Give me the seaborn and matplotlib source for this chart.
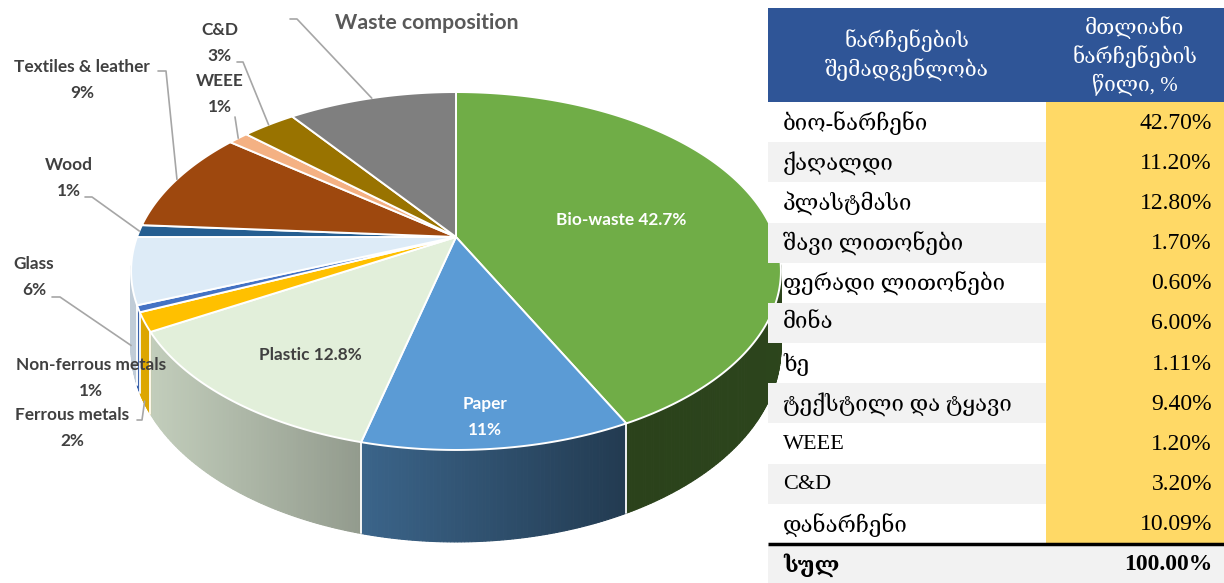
import numpy as np
import matplotlib
matplotlib.use("Agg")
import matplotlib.pyplot as plt
import seaborn as sns
from matplotlib.patches import Polygon, Rectangle
from matplotlib.colors import to_rgb

# ---------------- data ----------------
categories = ["Bio-waste", "Paper", "Plastic", "Ferrous metals", "Non-ferrous metals",
              "Glass", "Wood", "Textiles & leather", "WEEE", "C&D", "Waste composition"]
values = [42.7, 11.2, 12.8, 1.7, 0.6, 6.0, 1.11, 9.4, 1.2, 3.2, 10.09]
slice_colors = ["#70AD47", "#5B9BD5", "#E2EFDA", "#FFC000", "#4472C4", "#DDEBF7",
                "#255E91", "#9E480E", "#F4B183", "#997300", "#7F7F7F"]

table_header = ["ნარჩენების\nშემადგენლობა", "მთლიანი\nნარჩენების\nწილი, %"]
table_names = ["ბიო-ნარჩენი", "ქაღალდი", "პლასტმასი", "შავი ლითონები", "ფერადი ლითონები",
               "მინა", "ხე", "ტექსტილი და ტყავი", "WEEE", "C&D", "დანარჩენი"]
total_name = "სულ"

# ---------------- style ----------------
sns.set_theme(style="white")
palette = sns.color_palette(slice_colors)
label_font = ["Lato", "DejaVu Sans"]
table_font = ["Liberation Serif", "DejaVu Serif", "DejaVu Sans"]

fig = plt.figure(figsize=(12.24, 5.83), dpi=100)
ax = fig.add_axes([0, 0, 1, 1])
ax.set_xlim(0, 1224)
ax.set_ylim(583, 0)
ax.axis("off")

# ---------------- 3D pie geometry ----------------
cx, cy, A, B, K, H = 456, 237, 319, 172.5, 0.19, 74.5


def rim(theta):
    s, c = np.sin(theta), np.cos(theta)
    w = 1.0 / (1.0 + K * c)
    return cx + A * s * w, cy - B * c * w, H * w


def shade(x):
    return np.interp(x, [140, 626, 800], [0.87, 0.38, 0.40])


fracs = np.array(values) / np.sum(values)
bounds = np.concatenate([[0], np.cumsum(fracs)]) * 2 * np.pi

# sides
for i in range(len(values)):
    t1, t2 = bounds[i], bounds[i + 1]
    n = max(3, int(np.degrees(t2 - t1) * 2))
    ts = np.linspace(t1, t2, n)
    base = np.array(to_rgb(palette[i]))
    for a, b in zip(ts[:-1], ts[1:]):
        if np.cos((a + b) / 2) > -K + 0.03:
            continue
        xa, ya, ha = rim(a)
        xb, yb, hb = rim(b)
        col = np.clip(base * shade((xa + xb) / 2), 0, 1)
        ax.add_patch(Polygon([[xa, ya], [xb, yb], [xb, yb + hb], [xa, ya + ha]],
                             closed=True, facecolor=col, edgecolor=col, lw=0.8, zorder=1))
# white separators on side
for t in bounds[1:-1]:
    if np.cos(t) < -K:
        x0, y0, h0 = rim(t)
        ax.plot([x0, x0], [y0, y0 + h0], color="white", lw=1.3, zorder=2)

# top faces
for i in range(len(values)):
    t1, t2 = bounds[i], bounds[i + 1]
    n = max(3, int(np.degrees(t2 - t1) * 2))
    ts = np.linspace(t1, t2, n)
    xs, ys, _ = rim(ts)
    pts = [[cx, cy]] + list(zip(xs, ys))
    ax.add_patch(Polygon(pts, closed=True, facecolor=palette[i], edgecolor="white",
                         lw=1.4, joinstyle="round", zorder=3))

# ---------------- labels ----------------
lab_col = "#404040"
lead_col = "#A6A6A6"
lkw = dict(fontfamily=label_font, fontweight="bold", fontsize=12.4, ha="center",
           va="center", linespacing=1.8, zorder=5)


def pct(v):
    return f"{round(v):.0f}%"


# inside labels
ax.text(621, 220, f"{categories[0]} {values[0]}%", color="white", **lkw)
ax.text(485, 417, f"{categories[1]}\n{pct(values[1])}", color="white", **lkw)
ax.text(310, 355, f"{categories[2]} {values[2]}%", color=lab_col, **lkw)

# outside labels with leader lines
outside = [
    (3, (72, 428), (137, 420), (142, 420), 1.0),
    (4, (91, 378), None, None, None),
    (5, (34, 277), (52, 297), (60, 297), 1.0),
    (6, (69, 178), (85, 197), (92, 197), 0.0),
    (7, (82, 80), (158, 71), (166, 71), 0.0),
    (8, (220, 94), (235, 117), (235, 117), 0.0),
    (9, (220, 43), (237, 62), (243, 62), 0.0),
]
for idx, (lx, ly), p0, p1, depth in outside:
    ax.text(lx, ly, f"{categories[idx]}\n{pct(values[idx])}", color=lab_col, **lkw)
    if p0 is not None:
        tm = (bounds[idx] + bounds[idx + 1]) / 2
        ex, ey, eh = rim(tm)
        ey = ey + depth * eh * 0.97
        ax.plot([p0[0], p1[0], ex], [p0[1], p1[1], ey], color=lead_col, lw=1.2, zorder=4)

# "Waste composition" label for the last slice
tm = (bounds[10] + bounds[11]) / 2
ex, ey, _ = rim(tm)
ax.plot([290, 297, ex], [19, 19, ey], color=lead_col, lw=1.2, zorder=4)
ax.text(427, 23, categories[10], color="#595959", fontfamily=label_font,
        fontweight="bold", fontsize=15.3, ha="center", va="center", zorder=5)

# ---------------- table ----------------
tx0, tx1, tsplit = 768, 1224, 1046
hy0, hy1 = 8, 102
row_h = (544 - hy1) / len(table_names)

ax.add_patch(Rectangle((tx0, hy0), tx1 - tx0, hy1 - hy0, facecolor="#2F5597",
                       edgecolor="none", zorder=10))
ax.text((tx0 + tsplit) / 2, (hy0 + hy1) / 2, table_header[0], color="white",
        fontfamily=table_font, fontsize=15, ha="center", va="center",
        linespacing=1.35, zorder=11)
ax.text((tsplit + tx1) / 2, (hy0 + hy1) / 2 + 1, table_header[1], color="white",
        fontfamily=table_font, fontsize=15, ha="center", va="center",
        linespacing=1.35, zorder=11)

ax.add_patch(Rectangle((tsplit, hy1), tx1 - tsplit, row_h * len(table_names),
                       facecolor="#FFD966", edgecolor="none", zorder=10))
for i, (name, v) in enumerate(zip(table_names, values)):
    y = hy1 + i * row_h
    if i % 2 == 1:
        ax.add_patch(Rectangle((tx0, y), tsplit - tx0, row_h, facecolor="#F2F2F2",
                               edgecolor="none", zorder=10))
    ax.text(783, y + row_h / 2 + 1, name, fontfamily=table_font, fontsize=16,
            color="black", ha="left", va="center", zorder=11)
    ax.text(1212, y + row_h / 2 + 1, f"{v:.2f}%", fontfamily=table_font, fontsize=17,
            color="black", ha="right", va="center", zorder=11)

ty = hy1 + row_h * len(table_names)
ax.add_patch(Rectangle((tx0, ty + 1), tx1 - tx0, 583 - ty, facecolor="#F2F2F2",
                       edgecolor="none", zorder=10))
ax.plot([tx0, tx1], [ty, ty], color="black", lw=2.5, zorder=12, solid_capstyle="butt")
ax.text(783, ty + 21, total_name, fontfamily=table_font, fontsize=16, fontweight="bold",
        color="black", ha="left", va="center", zorder=11)
ax.text(1212, ty + 21, f"{np.sum(values):.2f}%", fontfamily=table_font, fontsize=17,
        fontweight="bold", color="black", ha="right", va="center", zorder=11)

fig.savefig("out.png", dpi=100, facecolor="white")
